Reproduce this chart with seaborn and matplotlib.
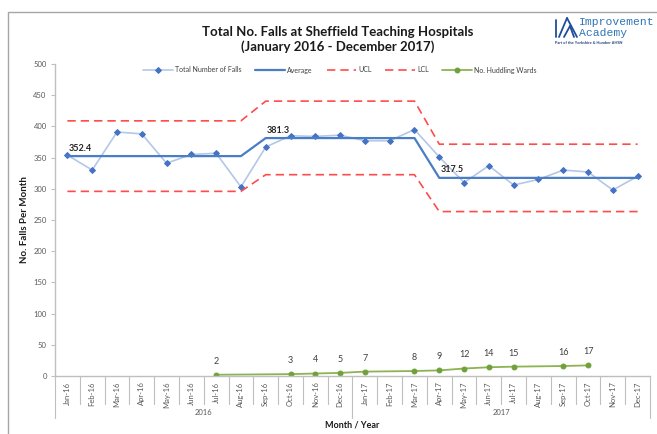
"""Total falls SPC chart, Sheffield Teaching Hospitals 2016-2017."""

import numpy as np
import pandas as pd
import matplotlib.pyplot as plt
import matplotlib.patches as mpatches
from matplotlib.lines import Line2D
import seaborn as sns

# Data
months = ["Jan-16", "Feb-16", "Mar-16", "Apr-16", "May-16", "Jun-16",
          "Jul-16", "Aug-16", "Sep-16", "Oct-16", "Nov-16", "Dec-16",
          "Jan-17", "Feb-17", "Mar-17", "Apr-17", "May-17", "Jun-17",
          "Jul-17", "Aug-17", "Sep-17", "Oct-17", "Nov-17", "Dec-17"]
total_falls = [354, 330, 391, 388, 341, 355, 357, 303, 367, 385, 384, 386,
               377, 377, 395, 351, 310, 337, 306, 315, 330, 327, 298, 320]
average = [352.4] * 8 + [381.3] * 7 + [317.5] * 9
ucl = [408.9] * 8 + [440.5] * 7 + [371.5] * 9
lcl = [295.9] * 8 + [322.6] * 7 + [263.5] * 9
huddling = [np.nan, np.nan, np.nan, np.nan, np.nan, np.nan, 2, np.nan, np.nan,
            3, 4, 5, 7, np.nan, 8, 9, 12, 14, 15, np.nan, 16, 17, np.nan,
            np.nan]
years = ["2016", "2017"]
avg_labels = {0: "352.4", 8: "381.3", 15: "317.5"}

df = pd.DataFrame({
    "idx": np.arange(len(months)),
    "month": months,
    "falls": total_falls,
    "average": average,
    "ucl": ucl,
    "lcl": lcl,
    "huddling": huddling,
})

sns.set_style("white")
plt.rcParams["font.family"] = ["Lato", "DejaVu Sans"]

W, H = 657, 434
fig = plt.figure(figsize=(W / 100, H / 100), dpi=100)
ax = fig.add_axes([55 / W, 1 - 376 / H, 595 / W, 312 / H])

grey = "#595959"
axis_col = "#BFBFBF"

sns.lineplot(data=df, x="idx", y="falls", ax=ax, color="#B4C7E7", lw=1.2,
             marker="D", markersize=3, markerfacecolor="#4472C4",
             markeredgecolor="#4472C4", label="Total Number of Falls")
sns.lineplot(data=df, x="idx", y="average", ax=ax, color="#4A7EC4", lw=1.6,
             label="Average")
sns.lineplot(data=df, x="idx", y="ucl", ax=ax, color="#FF4B4B", lw=1.2,
             dashes=(5, 3), label="UCL")
sns.lineplot(data=df, x="idx", y="lcl", ax=ax, color="#FF4B4B", lw=1.2,
             dashes=(5, 3), label="LCL")
sns.lineplot(data=df.dropna(subset=["huddling"]), x="idx", y="huddling",
             ax=ax, color="#8DB353", lw=1.3, marker="o", markersize=3.5,
             markeredgecolor="#70A03A", markerfacecolor="#70A03A",
             label="No. Huddling Wards")

# data labels
for i, txt in avg_labels.items():
    ax.annotate(txt, (i, average[i]), xytext=(1, 2.5), textcoords="offset points",
                ha="left", va="bottom", fontsize=6.5, fontweight="bold",
                color="#262626")
for i, v in enumerate(huddling):
    if not np.isnan(v):
        ax.annotate(f"{int(v)}", (i, v), xytext=(0, 6.5),
                    textcoords="offset points", ha="center", va="bottom",
                    fontsize=6.5, color="#404040")

ax.set_xlim(-0.5, len(months) - 0.5)
ax.set_ylim(0, 500)
ax.set_yticks(np.arange(0, 501, 50))
ax.tick_params(axis="y", labelsize=5.5, colors=grey, length=3, color=axis_col,
               pad=3, left=True)
ax.set_xticks(df["idx"])
ax.set_xticklabels(months, rotation=90, fontsize=5.5, color=grey)
ax.tick_params(axis="x", length=0, pad=4)
ax.set_xlabel("")
ax.set_ylabel("")
for s in ["top", "right"]:
    ax.spines[s].set_visible(False)
for s in ["left", "bottom"]:
    ax.spines[s].set_color(axis_col)
    ax.spines[s].set_linewidth(1)

# category separators
xt = ax.get_xaxis_transform()
for b in np.arange(-0.5, len(months), 1.0):
    long = b in (-0.5, 11.5, len(months) - 0.5)
    ax.plot([b, b], [0, -0.135 if long else -0.09], transform=xt,
            color=axis_col, lw=0.8, clip_on=False)
for k, yr in enumerate(years):
    ax.text(5.5 + 12 * k, -0.117, yr, transform=xt, ha="center", va="center",
            fontsize=5.5, color=grey)

leg = ax.legend(ncol=5, loc="center", bbox_to_anchor=(340 / W, 1 - 70 / H),
                bbox_transform=fig.transFigure, frameon=False, fontsize=5,
                handlelength=4.2, columnspacing=2.0, handletextpad=0.35)
for t in leg.get_texts():
    t.set_color("#404040")

fig.text(338 / W, 1 - 32 / H, "Total No. Falls at Sheffield Teaching Hospitals",
         ha="center", va="center", fontsize=9.5, fontweight="bold",
         color="#1a1a1a")
fig.text(338 / W, 1 - 47 / H, "(January 2016 - December 2017)",
         ha="center", va="center", fontsize=9.5, fontweight="bold",
         color="#1a1a1a")
fig.text(25 / W, 1 - 220 / H, "No. Falls Per Month", rotation=90,
         ha="center", va="center", fontsize=7, fontweight="bold",
         color="#1a1a1a")
fig.text(352 / W, 1 - 425 / H, "Month / Year", ha="center", va="center",
         fontsize=6.5, fontweight="bold", color="#1a1a1a")

# logo
logo_blue = "#2E75B6"
fig.text(579 / W, 1 - 22 / H, "Improvement", ha="left", va="center",
         fontsize=8.2, color=logo_blue, family="Liberation Mono")
fig.text(579 / W, 1 - 33 / H, "Academy", ha="left", va="center",
         fontsize=8.2, color=logo_blue, family="Liberation Mono")
fig.text(555 / W, 1 - 43 / H, "Part of the Yorkshire & Humber AHSN",
         ha="left", va="center", fontsize=2.8, color="#1F3F7A",
         fontweight="bold")
for xs, ys in [((556, 556), (37, 20)), ((559, 567), (37, 18)),
               ((567, 577), (18, 37)), ((564, 570), (37, 26)),
               ((570, 574), (26, 37))]:
    fig.add_artist(Line2D([x / W for x in xs], [1 - y / H for y in ys],
                          transform=fig.transFigure, color="#1F4E9A", lw=1.3))

# outer frame
fig.add_artist(mpatches.Rectangle((8 / W, -0.05), 1.0, 1 - 12 / H + 0.05,
                                  transform=fig.transFigure, fill=False,
                                  edgecolor="#A6A6A6", lw=1))

fig.savefig("out.png", dpi=100)
